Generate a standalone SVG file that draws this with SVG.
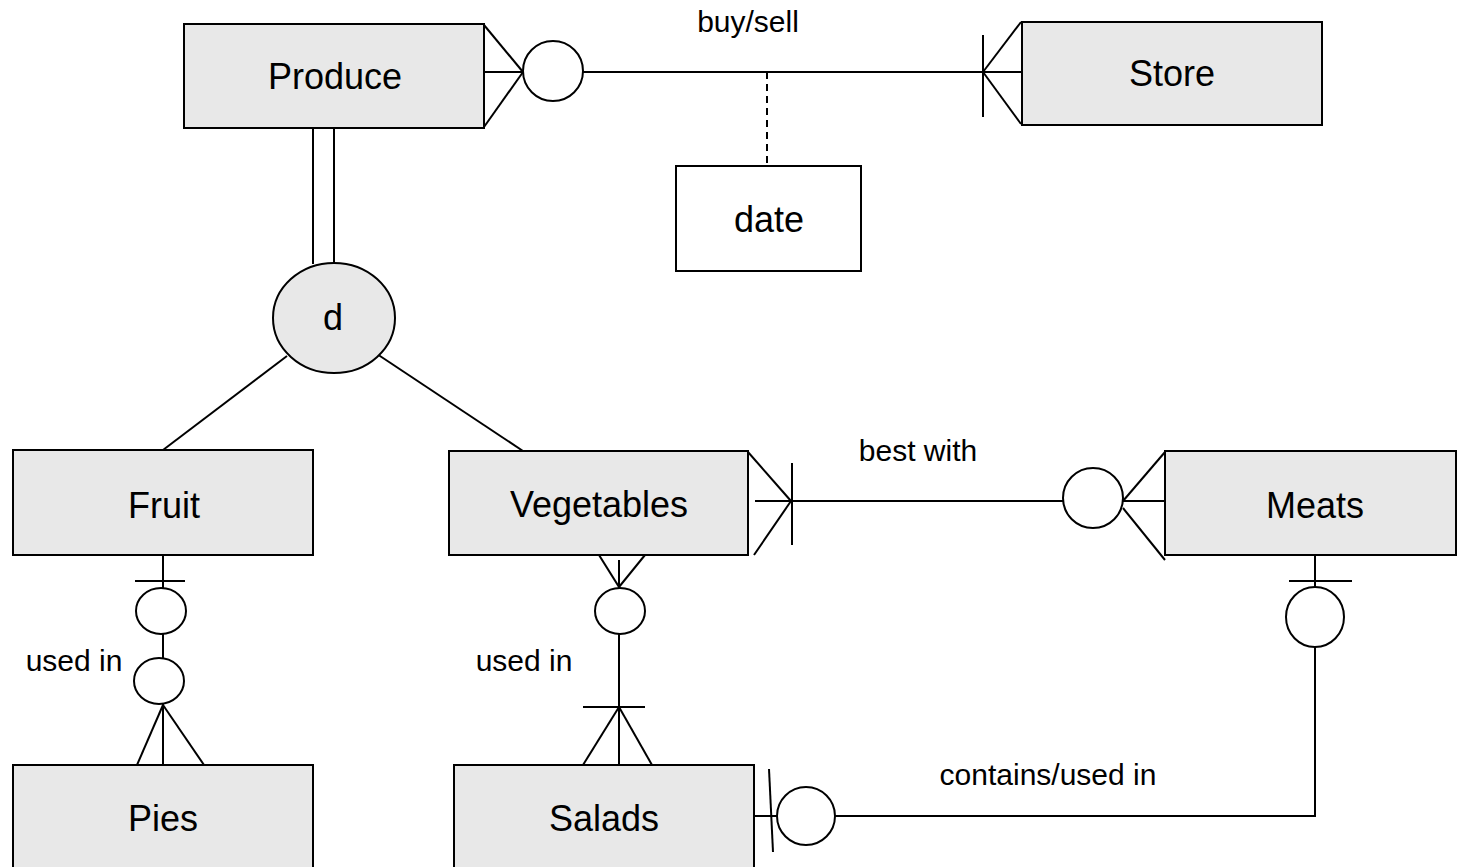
<svg xmlns="http://www.w3.org/2000/svg" width="1457" height="867" viewBox="0 0 1457 867">
<style>
.ent{fill:#e8e8e8;stroke:#000;stroke-width:2}
.wb{fill:#fff;stroke:#000;stroke-width:2}
.ln{fill:none;stroke:#000;stroke-width:2}
.cir{fill:#fff;stroke:#000;stroke-width:2}
.t{font-family:"Liberation Sans",Arial,sans-serif;font-size:36px;text-anchor:middle;fill:#000}
.l{font-family:"Liberation Sans",Arial,sans-serif;font-size:30px;text-anchor:middle;fill:#000}
</style>
<rect width="1457" height="867" fill="#fff"/>
<g id="connectors">
<!-- Produce - Store -->
<line class="ln" x1="484" y1="72" x2="1022" y2="72"/>
<line class="ln" x1="484" y1="25" x2="523" y2="72"/>
<line class="ln" x1="484" y1="127" x2="523" y2="72"/>
<circle class="cir" cx="553" cy="71" r="30"/>
<line class="ln" x1="1021" y1="22" x2="983" y2="72"/>
<line class="ln" x1="983" y1="72" x2="1021" y2="124"/>
<line class="ln" x1="983" y1="35" x2="983" y2="117"/>
<line class="ln" x1="767" y1="72" x2="767" y2="166" stroke-dasharray="7,5"/>
<!-- Produce - d -->
<line class="ln" x1="313" y1="128" x2="313" y2="264"/>
<line class="ln" x1="334" y1="128" x2="334" y2="263"/>
<line class="ln" x1="287" y1="356" x2="163" y2="450"/>
<line class="ln" x1="377" y1="354" x2="523" y2="451"/>
<!-- Vegetables - Meats -->
<line class="ln" x1="755" y1="501" x2="1170" y2="501"/>
<line class="ln" x1="748" y1="452" x2="791" y2="501"/>
<line class="ln" x1="791" y1="501" x2="754" y2="555"/>
<line class="ln" x1="792" y1="463" x2="792" y2="545"/>
<circle class="cir" cx="1093" cy="498" r="30"/>
<line class="ln" x1="1123" y1="501" x2="1165" y2="452"/>
<line class="ln" x1="1123" y1="508" x2="1165" y2="560"/>
<!-- Fruit - Pies -->
<line class="ln" x1="163" y1="555" x2="163" y2="765"/>
<line class="ln" x1="135" y1="581" x2="185" y2="581"/>
<ellipse class="cir" cx="161" cy="611" rx="25" ry="23"/>
<ellipse class="cir" cx="159" cy="681" rx="25" ry="23"/>
<line class="ln" x1="163" y1="705" x2="137" y2="765"/>
<line class="ln" x1="163" y1="705" x2="204" y2="765"/>
<!-- Vegetables - Salads -->
<line class="ln" x1="619" y1="560" x2="619" y2="768"/>
<line class="ln" x1="599" y1="555" x2="619" y2="587"/>
<line class="ln" x1="645" y1="555" x2="619" y2="587"/>
<ellipse class="cir" cx="620" cy="611" rx="25" ry="23"/>
<line class="ln" x1="583" y1="707" x2="645" y2="707"/>
<line class="ln" x1="619" y1="707" x2="583" y2="765"/>
<line class="ln" x1="619" y1="707" x2="652" y2="765"/>
<!-- Meats - Salads -->
<polyline class="ln" points="1315,555 1315,816 754,816"/>
<line class="ln" x1="1289" y1="581" x2="1352" y2="581"/>
<ellipse class="cir" cx="1315" cy="617" rx="29" ry="30"/>
<circle class="cir" cx="806" cy="816" r="29"/>
<line class="ln" x1="769" y1="769" x2="773" y2="852"/>
</g>
<g id="produce"><rect class="ent" x="184" y="24" width="300" height="104"/><text class="t" x="335" y="89">Produce</text></g>
<g id="store"><rect class="ent" x="1022" y="22" width="300" height="103"/><text class="t" x="1172" y="86">Store</text></g>
<g id="date"><rect class="wb" x="676" y="166" width="185" height="105"/><text class="t" x="769" y="232">date</text></g>
<g id="d"><ellipse class="ent" cx="334" cy="318" rx="61" ry="55"/><text class="t" x="333" y="330">d</text></g>
<g id="fruit"><rect class="ent" x="13" y="450" width="300" height="105"/><text class="t" x="164" y="518">Fruit</text></g>
<g id="vegetables"><rect class="ent" x="449" y="451" width="299" height="104"/><text class="t" x="599" y="517">Vegetables</text></g>
<g id="meats"><rect class="ent" x="1165" y="451" width="291" height="104"/><text class="t" x="1315" y="518">Meats</text></g>
<g id="pies"><rect class="ent" x="13" y="765" width="300" height="110"/><text class="t" x="163" y="831">Pies</text></g>
<g id="salads"><rect class="ent" x="454" y="765" width="300" height="110"/><text class="t" x="604" y="831">Salads</text></g>
<g id="labels">
<text class="l" x="748" y="32">buy/sell</text>
<text class="l" x="918" y="461">best with</text>
<text class="l" x="74" y="671">used in</text>
<text class="l" x="524" y="671">used in</text>
<text class="l" x="1048" y="785">contains/used in</text>
</g>
</svg>
